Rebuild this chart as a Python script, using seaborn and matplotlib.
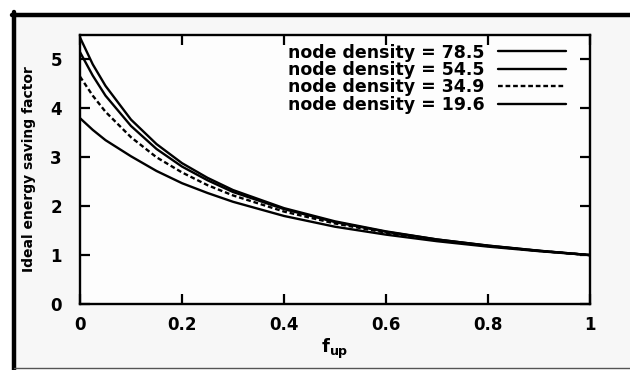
import numpy as np
import pandas as pd
import matplotlib
matplotlib.use("Agg")
import matplotlib.pyplot as plt
import seaborn as sns
from matplotlib.patches import Rectangle
from matplotlib.lines import Line2D

# ---- data ----
f_up = [0.0, 0.025, 0.05, 0.1, 0.15, 0.2, 0.25, 0.3, 0.4, 0.5, 0.6, 0.7, 0.8, 0.9, 1.0]
d785 = [5.45, 4.90, 4.46, 3.77, 3.27, 2.88, 2.58, 2.33, 1.96, 1.69, 1.485, 1.32, 1.195, 1.09, 1.0]
d545 = [5.15, 4.67, 4.26, 3.64, 3.17, 2.81, 2.53, 2.29, 1.94, 1.675, 1.476, 1.319, 1.192, 1.088, 1.0]
d349 = [4.65, 4.26, 3.93, 3.41, 3.00, 2.69, 2.43, 2.22, 1.89, 1.646, 1.458, 1.308, 1.186, 1.085, 1.0]
d196 = [3.80, 3.56, 3.35, 3.02, 2.72, 2.47, 2.27, 2.09, 1.80, 1.58, 1.418, 1.284, 1.173, 1.08, 1.0]
labels = ["node density = 78.5", "node density = 54.5",
          "node density = 34.9", "node density = 19.6"]
x_ticks = [0, 0.2, 0.4, 0.6, 0.8, 1]
x_ticklabels = ["0", "0.2", "0.4", "0.6", "0.8", "1"]
y_ticks = [0, 1, 2, 3, 4, 5]

sns.set_theme(style="white")
plt.rcParams["font.family"] = ["DejaVu Sans"]
plt.rcParams["text.color"] = "black"
plt.rcParams["axes.labelcolor"] = "black"
plt.rcParams["mathtext.fontset"] = "custom"
plt.rcParams["mathtext.rm"] = "DejaVu Sans:bold"
plt.rcParams["mathtext.it"] = "DejaVu Sans:bold"
plt.rcParams["mathtext.bf"] = "DejaVu Sans:bold"

W, H = 630, 370
fig = plt.figure(figsize=(W / 100, H / 100), dpi=100)
fig.patch.set_facecolor("white")

def fx(px):
    return px / W

def fy(py):
    return 1 - py / H

# inner panel with thick left/top border
fig.add_artist(Rectangle((fx(14), fy(368)), fx(630) - fx(14), fy(14) - fy(368),
                         transform=fig.transFigure, facecolor="#f7f7f7",
                         edgecolor="none", zorder=-10))
fig.add_artist(Line2D([fx(14), fx(14)], [fy(12), fy(370)], transform=fig.transFigure,
                      color="black", lw=3.2, zorder=-5))
fig.add_artist(Line2D([fx(12), fx(630)], [fy(14.5), fy(14.5)], transform=fig.transFigure,
                      color="black", lw=3.2, zorder=-5))
fig.add_artist(Line2D([fx(14), fx(630)], [fy(368), fy(368)], transform=fig.transFigure,
                      color="#555555", lw=1.0, zorder=-5))

ax = fig.add_axes([fx(80), fy(304), fx(590) - fx(80), fy(35) - fy(304)])
ax.set_facecolor("#fdfdfd")

series = [d785, d545, d349, d196]
styles = ["-", "-", (0, (2.0, 1.2)), "-"]
for vals, lab, ls in zip(series, labels, styles):
    sns.lineplot(x=f_up, y=vals, ax=ax, color="black", lw=1.7, linestyle=ls,
                 label=lab)

ax.set_xlim(0, 1)
ax.set_ylim(0, 5.5)
ax.set_xticks(x_ticks)
ax.set_xticklabels(x_ticklabels)
ax.set_yticks(y_ticks)
for s in ax.spines.values():
    s.set_visible(True)
    s.set_color("black")
    s.set_linewidth(1.7)
ax.tick_params(axis="both", which="both", direction="in", length=7, width=1.6,
               top=True, right=True, bottom=True, left=True, labelsize=12,
               colors="black")
ax.tick_params(axis="x", pad=9)
ax.tick_params(axis="y", pad=13)
for t in ax.get_xticklabels() + ax.get_yticklabels():
    t.set_fontweight("bold")

ax.set_xlabel(r"$\mathregular{f_{up}}$", fontsize=13, fontweight="bold", color="black")
ax.xaxis.set_label_coords(0.5, -(347 - 304 - 10) / 269)
ax.set_ylabel("Ideal energy saving factor", fontsize=10, fontweight="bold", color="black")
ax.yaxis.set_label_coords((36 - 80) / 510, 0.5)

leg = ax.legend(loc="upper right", bbox_to_anchor=(fx(566), fy(43.5)),
                bbox_transform=fig.transFigure, frameon=False, markerfirst=False,
                prop={"weight": "bold", "size": 12.5}, handlelength=3.9,
                handletextpad=0.8, labelspacing=-0.03, borderpad=0, borderaxespad=0)
for t in leg.get_texts():
    t.set_ha("right")
    t.set_color("black")

fig.savefig("out.png", dpi=100, facecolor=fig.get_facecolor())
